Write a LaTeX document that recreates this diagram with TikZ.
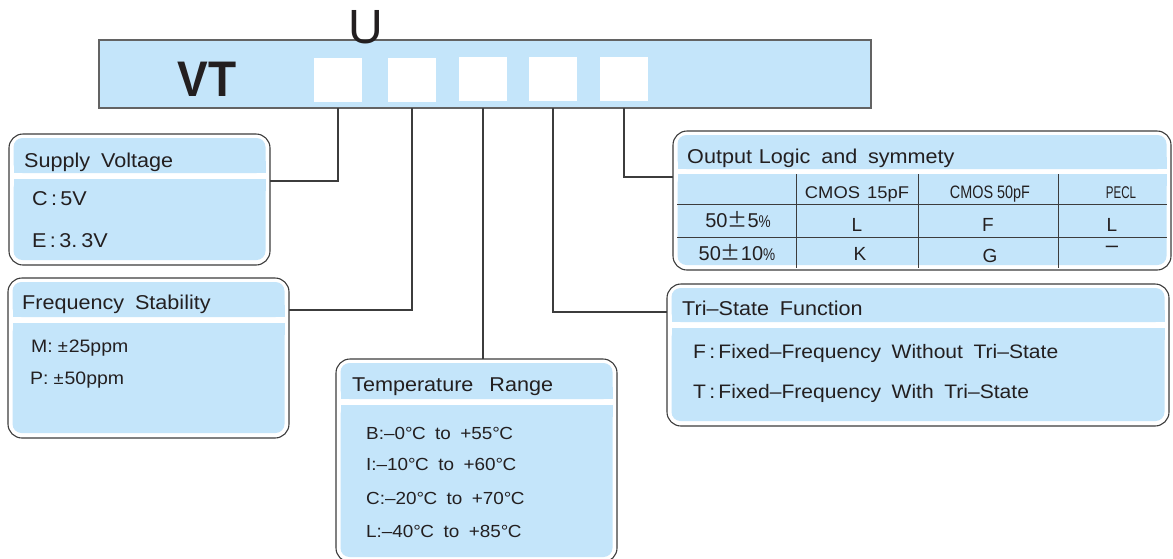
\documentclass[tikz,border=0pt]{standalone}
\usepackage{fontspec}
\newfontfamily\lsans[FakeStretch=1.08,WordSpace=1.8]{Liberation Sans}
\newfontfamily\lsansn{Liberation Sans}
\newfontfamily\lsansc[FakeStretch=0.8]{Liberation Sans}
\newfontfamily\lsansk[FakeStretch=0.68]{Liberation Sans}
\newfontfamily\lsansb[FakeStretch=0.92]{Liberation Sans}
\newfontfamily\cjk{Noto Sans CJK SC}
\definecolor{cblue}{RGB}{196,229,250}
\definecolor{edge}{RGB}{60,60,60}
\definecolor{txtc}{RGB}{35,31,32}
\newcommand\dC{°\kern-0.6pt C}
\newcommand\fsz[1]{\fontsize{#1}{#1}\selectfont}
\newcommand\mkpanel[7]{%
  \node[panel, anchor=north west, minimum width={(#4-#2)*1pt}, minimum height={(#5-#3)*1pt}] (#1) at (#2,#3) {};
  \fill[cblue, rounded corners=9pt] ({#2+4.5},{#3+4}) rectangle ({#4-4.5},#6);
  \fill[cblue] ({#2+4.5},{#6-12}) rectangle ({#4-4.5},#6);
  \fill[cblue, rounded corners=9pt] ({#2+4.5},#7) rectangle ({#4-4.5},{#5-5});
  \fill[cblue] ({#2+4.5},#7) rectangle ({#4-4.5},{#7+12});
}
\begin{document}
\begin{tikzpicture}[x=1pt,y=-1pt,
  panel/.style={draw=edge, line width=1.1pt, fill=white, rounded corners=14pt, inner sep=0pt, outer sep=0pt},
  conn/.style={draw=edge, line width=1.1pt},
  tbl/.style={draw=edge, line width=1pt},
  sqbox/.style={fill=white, anchor=north west, minimum width=48pt, minimum height=44pt, inner sep=0pt, outer sep=0pt},
  hd/.style={anchor=base west, inner sep=0pt, text=txtc, font=\lsans\fsz{20}},
  bd/.style={anchor=base west, inner sep=0pt, text=txtc, font=\lsans\fsz{19}},
  tmp/.style={anchor=base west, inner sep=0pt, text=txtc, font=\lsans\fsz{17.5}},
  tb/.style={anchor=base, inner sep=0pt, text=txtc}]
\useasboundingbox (0,0) rectangle (1173,558);

% code bar
\node[draw=edge!80, line width=1.4pt, fill=cblue, anchor=north west, minimum width=772pt, minimum height=68pt, inner sep=0pt, outer sep=0pt] (bar) at (99,40) {};
\node[sqbox] (sq1) at (314,58) {};
\node[sqbox] (sq2) at (388,58) {};
\node[sqbox] (sq3) at (459,57) {};
\node[sqbox] (sq4) at (529,57) {};
\node[sqbox] (sq5) at (600,57) {};
\node[tb, font=\lsansb\bfseries\fsz{50}] (vt) at (207,96) {VT};
\node[tb, font=\lsansn\fsz{48}] (u) at (365.5,43) {U};

% panels
\mkpanel{sv}{9}{134}{270}{265}{173}{179}
\mkpanel{fs}{8}{278}{289}{438}{317}{323}
\mkpanel{tr}{336}{359}{617}{562}{399}{405}
\mkpanel{ol}{673}{131}{1171}{270}{169}{174}
\mkpanel{ts}{667}{284}{1169}{426}{322}{328}

% connector end points on panel edges
\coordinate (svin) at (270,181);
\coordinate (fsin) at (289,310);
\coordinate (tsin) at (667,312);
\coordinate (olin) at (673,177);

\draw[conn] (sq1.south |- bar.south) |- (svin);
\draw[conn] (sq2.south |- bar.south) |- (fsin);
\draw[conn] (sq3.south |- bar.south) -- (sq3.south |- tr.north);
\draw[conn] (sq4.south |- bar.south) |- (tsin);
\draw[conn] (sq5.south |- bar.south) |- (olin);

% Supply voltage
\node[hd] (svh) at (24,167) {Supply Voltage};
\node[bd, font=\lsans\fsz{20}] (svc) at (32,205) {C\,:\,5V};
\node[bd, font=\lsans\fsz{20}] (sve) at (32,247) {E\,:\,3.\hspace{4pt}3V};

% Frequency stability
\node[hd] (fsh) at (22,309) {Frequency Stability};
\node[bd, font=\lsans\fsz{18}] (fsm) at (31,352) {M:\hspace{5pt}{\fsz{17}±}\hspace{1pt}25ppm};
\node[bd, font=\lsans\fsz{18}] (fsp) at (30,384) {P:\hspace{5pt}{\fsz{17}±}\hspace{1pt}50ppm};

% Temperature range
\node[hd] (trh) at (352,391) {Temperature\hspace{16pt}Range};
\node[tmp] (trb) at (366,439) {B:–0\dC{} to +55\dC};
\node[tmp] (tri) at (366,470) {I:–10\dC{} to +60\dC};
\node[tmp] (trc) at (366,504) {C:–20\dC{} to +70\dC};
\node[tmp] (trl) at (366,537) {L:–40\dC{} to +85\dC};

% Output logic table
\node[hd] (olh) at (687,163) {Output\hspace{-4pt} Logic and symmety};
\draw[tbl] (677,204) -- (1167,204);
\draw[tbl] (677,237) -- (1167,237);
\draw[tbl] (796,174) -- (796,268);
\draw[tbl] (918,174) -- (918,268);
\draw[tbl] (1058,174) -- (1058,268);
\node[tb, font=\lsans\fsz{17}] (c1) at (857,198) {CMOS\hspace{-2pt} 15pF};
\node[tb, font=\lsansc\fsz{18}] (c2) at (990,198) {CMOS 50pF};
\node[tb, font=\lsansk\fsz{17}] (c3) at (1121,198) {PECL};
\node[tb, font=\lsansn\fsz{20}] (r1) at (738,227) {50{\cjk±}5{\lsansc\fsz{17}\%}};
\node[tb, font=\lsansn\fsz{19}] (r1a) at (857,231) {L};
\node[tb, font=\lsansn\fsz{19}] (r1b) at (988,231) {F};
\node[tb, font=\lsansn\fsz{19}] (r1c) at (1112,231) {L};
\node[tb, font=\lsansn\fsz{20}] (r2) at (737,260) {50{\cjk±}10{\lsansc\fsz{17}\%}};
\node[tb, font=\lsansn\fsz{19}] (r2a) at (860,260) {K};
\node[tb, font=\lsansn\fsz{19}] (r2b) at (990,262) {G};
\node[tb, font=\lsansn\fsz{22}] (r2c) at (1112,252) {–};

% Tri-state
\node[hd] (tsh) at (682,315) {Tri–State Function};
\node[bd, font=\lsans\fsz{19.5}] (tsf) at (693,358) {F\,:\,Fixed–Frequency Without Tri–State};
\node[bd, font=\lsans\fsz{19.5}] (tst) at (693,398) {T\,:\,Fixed–Frequency With Tri–State};
\end{tikzpicture}
\end{document}
